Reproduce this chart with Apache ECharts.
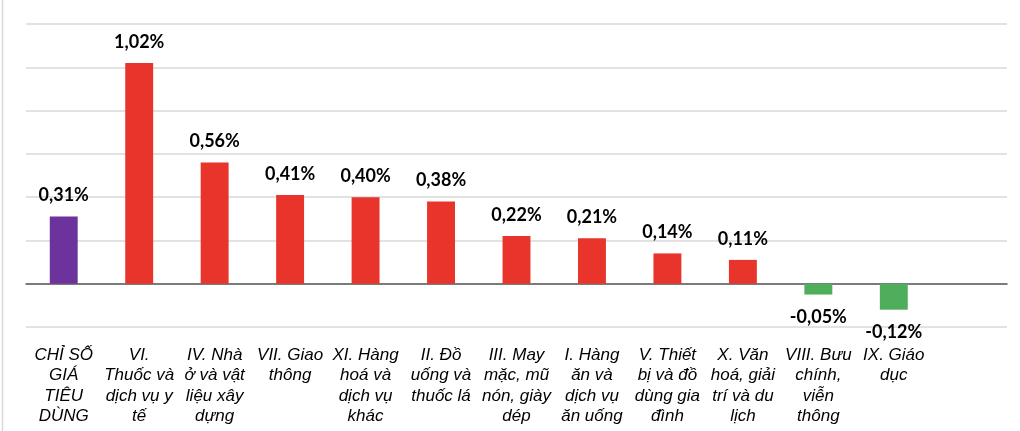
<!DOCTYPE html>
<html>
<head>
<meta charset="utf-8">
<script src="https://cdn.jsdelivr.net/npm/echarts@6/dist/echarts.min.js"></script>
<style>
  html, body { margin: 0; padding: 0; background: #fff; }
  #chart { width: 1020px; height: 431px; }
</style>
</head>
<body>
<div id="chart"></div>
<script>
// categories (line breaks as in the source picture), last slot is empty
const categories = [
  'CHỈ SỐ\nGIÁ\nTIÊU\nDÙNG',
  'VI.\nThuốc và\ndịch vụ y\ntế',
  'IV. Nhà\nở và vật\nliệu xây\ndựng',
  'VII. Giao\nthông',
  'XI. Hàng\nhoá và\ndịch vụ\nkhác',
  'II. Đồ\nuống và\nthuốc lá',
  'III. May\nmặc, mũ\nnón, giày\ndép',
  'I. Hàng\năn và\ndịch vụ\năn uống',
  'V. Thiết\nbị và đồ\ndùng gia\nđình',
  'X. Văn\nhoá, giải\ntrí và du\nlịch',
  'VIII. Bưu\nchính,\nviễn\nthông',
  'IX. Giáo\ndục',
  ''
];

const changeValues = [0.31, 1.02, 0.56, 0.41, 0.40, 0.38, 0.22, 0.21, 0.14, 0.11, -0.05, -0.12];

const yTicks = [-0.2, 0, 0.2, 0.4, 0.6, 0.8, 1.0, 1.2];

const chart = echarts.init(document.getElementById('chart'));

const colorFor = (v, i) => {
  if (i === 0) return '#6b339b';
  return v >= 0 ? '#e8342a' : '#4fae5c';
};

const barData = changeValues.map((v, i) => ({
  value: v,
  itemStyle: { color: colorFor(v, i) },
  label: v >= 0
    ? { position: 'top', distance: 12 }
    : { position: 'bottom', distance: 14 }
}));

chart.setOption({
  animation: false,
  grid: {
    left: 26,
    right: 13,
    top: 24,
    bottom: 104
  },
  xAxis: {
    type: 'category',
    data: categories,
    axisLine: {
      show: true,
      onZero: true,
      lineStyle: { color: '#595959', width: 1.5 }
    },
    axisTick: { show: false },
    axisLabel: {
      interval: 0,
      margin: 18,
      color: '#000',
      fontFamily: 'Liberation Sans, Arial, sans-serif',
      fontStyle: 'italic',
      fontSize: 17,
      lineHeight: 20.5,
      align: 'center'
    }
  },
  yAxis: {
    type: 'value',
    min: yTicks[0],
    max: yTicks[yTicks.length - 1],
    interval: 0.2,
    axisLine: { show: false },
    axisTick: { show: false },
    axisLabel: { show: false },
    splitLine: {
      lineStyle: { color: '#d9d9d9', width: 1.5 }
    }
  },
  series: [
    {
      type: 'bar',
      data: barData,
      barWidth: '37%',
      label: {
        show: true,
        color: '#000',
        fontFamily: 'Lato, sans-serif',
        fontWeight: 'bold',
        fontSize: 18,
        formatter: p => p.value.toFixed(2).replace('.', ',') + '%'
      }
    }
  ],
  graphic: [
    {
      type: 'line',
      shape: { x1: 2.5, y1: 0, x2: 2.5, y2: 431 },
      style: { stroke: '#d9d9d9', lineWidth: 1.5 }
    }
  ]
});
</script>
</body>
</html>
